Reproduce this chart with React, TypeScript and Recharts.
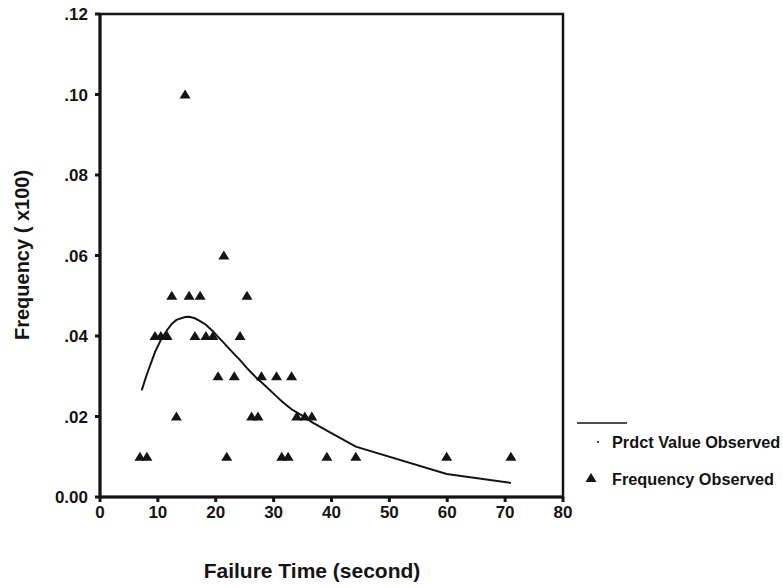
import React from 'react';
import { ComposedChart, Scatter, Line, XAxis, YAxis, Legend, ReferenceArea } from 'recharts';

// observed frequencies (failure time in seconds, frequency)
const OBS_X = [
  14.7,
  21.4,
  12.4, 15.4, 17.3, 25.4,
  9.5, 10.5, 11.6, 16.4, 18.3, 19.5, 24.2,
  20.4, 23.2, 27.9, 30.5, 33.1,
  13.2, 26.2, 27.3, 34.0, 35.4, 36.6,
  6.9, 8.1, 21.9, 31.4, 32.5, 39.2, 44.2, 59.9, 71.0,
];
const OBS_Y = [
  0.10,
  0.06,
  0.05, 0.05, 0.05, 0.05,
  0.04, 0.04, 0.04, 0.04, 0.04, 0.04, 0.04,
  0.03, 0.03, 0.03, 0.03, 0.03,
  0.02, 0.02, 0.02, 0.02, 0.02, 0.02,
  0.01, 0.01, 0.01, 0.01, 0.01, 0.01, 0.01, 0.01, 0.01,
];

// predicted value curve
const PRED_X = [7.2, 8.1, 9.5, 10.5, 11.6, 12.4, 13.2, 14.7, 15.4, 16.4, 17.3, 18.3, 19.5, 20.4, 21.4, 21.9, 23.2, 24.2, 25.4, 26.2, 27.3, 27.9, 30.5, 31.4, 32.5, 33.1, 34.0, 35.4, 36.6, 39.2, 44.2, 59.9, 71.0];
const PRED_Y = [0.0265, 0.0305, 0.036, 0.039, 0.0415, 0.043, 0.044, 0.0447, 0.0448, 0.0444, 0.0437, 0.0428, 0.0412, 0.0398, 0.0383, 0.0375, 0.0355, 0.034, 0.032, 0.0308, 0.0292, 0.0285, 0.025, 0.0238, 0.0225, 0.0218, 0.021, 0.0198, 0.0186, 0.0165, 0.0125, 0.0057, 0.0035];

const X_TICKS = [0, 10, 20, 30, 40, 50, 60, 70, 80];
const Y_TICKS = [0, 0.02, 0.04, 0.06, 0.08, 0.10, 0.12];

const observed = OBS_X.map((x, i) => ({ x, y: OBS_Y[i] }));
const predicted = PRED_X.map((x, i) => ({ x, y: PRED_Y[i] }));

const FONT = '"Liberation Sans", Arial, sans-serif';
const INK = '#141414';

const Triangle = (props: any) => {
  const { cx, cy } = props;
  if (cx == null || cy == null) return null;
  return <polygon points={`${cx},${cy - 5} ${cx - 5.5},${cy + 4} ${cx + 5.5},${cy + 4}`} fill={INK} />;
};

const fmtY = (v: number) => (v === 0 ? '0.00' : v.toFixed(2).replace(/^0/, ''));

const renderLegend = () => (
  <svg width={213} height={85} style={{ display: 'block' }}>
    <line x1={7} y1={13} x2={57} y2={13} stroke={INK} strokeWidth={1.5} />
    <circle cx={28} cy={32} r={1} fill={INK} />
    <text x={42} y={32} dominantBaseline="central" fontSize={16.3} fontWeight="bold" fill={INK} fontFamily={FONT}>
      Prdct Value Observed
    </text>
    <polygon points="21,63 15.5,72 26.5,72" fill={INK} />
    <text x={42} y={69} dominantBaseline="central" fontSize={16.3} fontWeight="bold" fill={INK} fontFamily={FONT}>
      Frequency Observed
    </text>
  </svg>
);

const App: React.FC = () => {
  return (
    <div style={{ width: 783, height: 588, background: '#fff', fontFamily: FONT }}>
      <style>{'body{margin:0}'}</style>
      <ComposedChart width={783} height={588} margin={{ top: 14, right: 220, bottom: 61, left: 40 }}>
        <XAxis
          dataKey="x"
          type="number"
          domain={[0, 80]}
          ticks={X_TICKS}
          height={30}
          axisLine={{ stroke: INK, strokeWidth: 3 }}
          tickLine={{ stroke: INK, strokeWidth: 3 }}
          tickSize={5}
          tickMargin={4}
          tick={{ fontSize: 17, fontWeight: 'bold', fill: INK, fontFamily: FONT }}
          label={() => (
            <text x={312} y={570} textAnchor="middle" dominantBaseline="central" fontSize={21} fontWeight="bold" fill={INK} fontFamily={FONT}>
              Failure Time (second)
            </text>
          )}
        />
        <YAxis
          dataKey="y"
          type="number"
          domain={[0, 0.12]}
          ticks={Y_TICKS}
          width={60}
          axisLine={{ stroke: INK, strokeWidth: 3 }}
          tickLine={{ stroke: INK, strokeWidth: 3 }}
          tickSize={5}
          tickMargin={7}
          tickFormatter={fmtY}
          tick={{ fontSize: 17, fontWeight: 'bold', fill: INK, fontFamily: FONT }}
          label={() => (
            <text x={22} y={255} transform="rotate(-90 22 255)" textAnchor="middle" dominantBaseline="central" fontSize={20} fontWeight="bold" fill={INK} fontFamily={FONT}>
              Frequency ( x100)
            </text>
          )}
        />
        <ReferenceArea x1={0} x2={80} y1={0} y2={0.12} fill="none" stroke={INK} strokeWidth={2.5} />
        <Line
          data={predicted}
          dataKey="y"
          type="linear"
          stroke={INK}
          strokeWidth={2}
          dot={false}
          isAnimationActive={false}
          legendType="none"
        />
        <Scatter data={observed} dataKey="y" shape={<Triangle />} isAnimationActive={false} />
        <Legend
          layout="horizontal"
          verticalAlign="middle"
          align="center"
          content={renderLegend}
          wrapperStyle={{ left: 570, top: 410, width: 213, height: 85 }}
        />
      </ComposedChart>
    </div>
  );
};

export default App;
